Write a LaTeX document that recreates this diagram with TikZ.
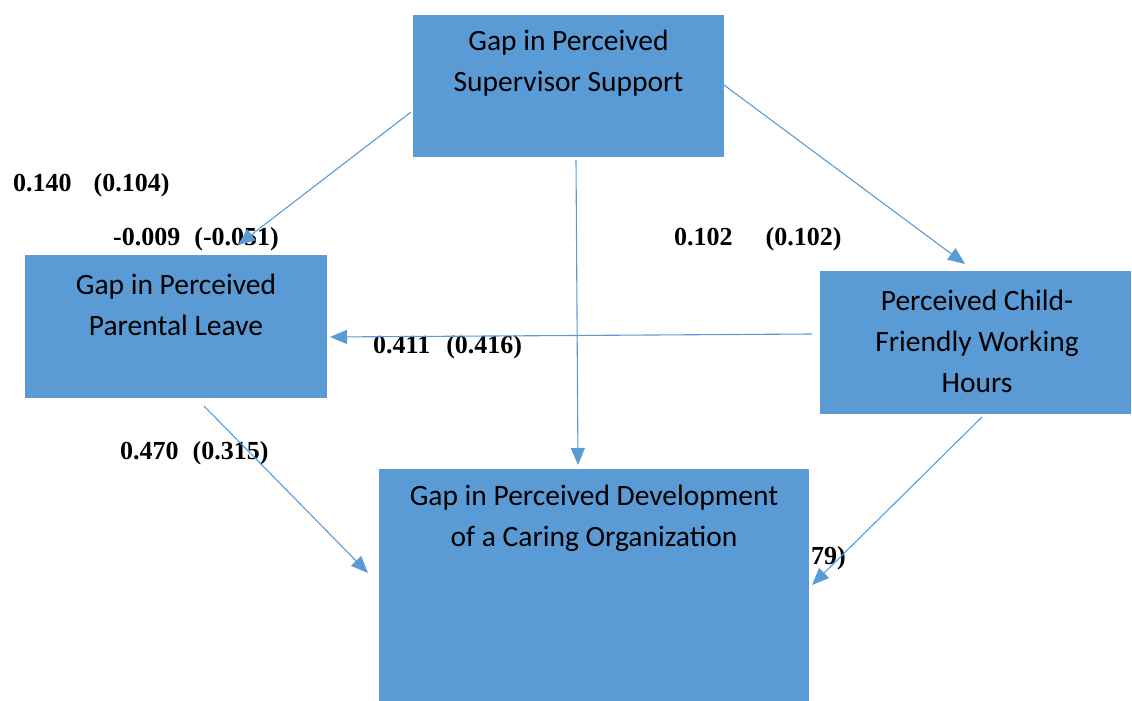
\documentclass[tikz,border=0pt]{standalone}
\usepackage{fontspec}
\setmainfont{Liberation Serif}
\newfontfamily\calfont{Carlito}
\usetikzlibrary{arrows.meta,calc}
\definecolor{boxblue}{HTML}{5B9BD5}
\begin{document}
\begin{tikzpicture}[x=1pt,y=-1pt,
  box/.style={fill=boxblue, draw=none, anchor=north west, inner sep=0pt},
  btext/.style={font=\calfont\fontsize{29.5}{41}\selectfont, align=center, inner sep=0pt, text=black},
  coef/.style={font=\bfseries\fontsize{26}{30}\selectfont, anchor=west, inner sep=0pt},
  conn/.style={draw=boxblue, line width=1.1pt, -{Triangle[length=17pt,width=14pt]}}]
\useasboundingbox (0,0) rectangle (1132,701);

% labels
\node[coef] (l1) at (13,185) {0.140\hspace{22pt}(0.104)};
\node[coef] (l2) at (113,239) {-0.009\hspace{14pt}(-0.051)};
\node[coef] (l3) at (674,239) {0.102\hspace{33pt}(0.102)};
\node[coef] (l4) at (373,347) {0.411\hspace{16pt}(0.416)};
\node[coef] (l5) at (120,453) {0.470\hspace{14pt}(0.315)};
\node[coef] (l6) at (811,558) {79)};

% boxes
\node[box, minimum width=311pt, minimum height=142pt] (sup) at (413,15) {};
\node[box, minimum width=302pt, minimum height=143pt] (par) at (25,255) {};
\node[box, minimum width=311pt, minimum height=143pt] (hrs) at (820,271) {};
\node[box, minimum width=430pt, minimum height=232pt] (dev) at (379,469) {};

\node[btext] (supT) at (568.5,63.5) {Gap in Perceived\\Supervisor Support};
\node[btext] (parT) at (176,304.5) {Gap in Perceived\\Parental Leave};
\node[btext] (hrsT) at (977,341) {Perceived Child-\\Friendly Working\\Hours};
\node[btext] (devT) at (594,518) {Gap in Perceived Development\\of a Caring Organization};

% connectors
\draw[conn] ($(sup.north west)+(-2,97)$) -- ($(par.north west)+(213,-10)$);
\draw[conn] ($(sup.north west)+(163,145)$) -- ($(dev.north west)+(199,-4)$);
\draw[conn] ($(sup.north west)+(311,70)$) -- ($(hrs.north west)+(145,-7)$);
\draw[conn] ($(hrs.north west)+(-8,63)$) -- ($(par.north west)+(305,82)$);
\draw[conn] ($(par.north west)+(179,151)$) -- ($(dev.north west)+(-11,104)$);
\draw[conn] ($(hrs.north west)+(162,146)$) -- ($(dev.north west)+(433,116)$);
\end{tikzpicture}
\end{document}
